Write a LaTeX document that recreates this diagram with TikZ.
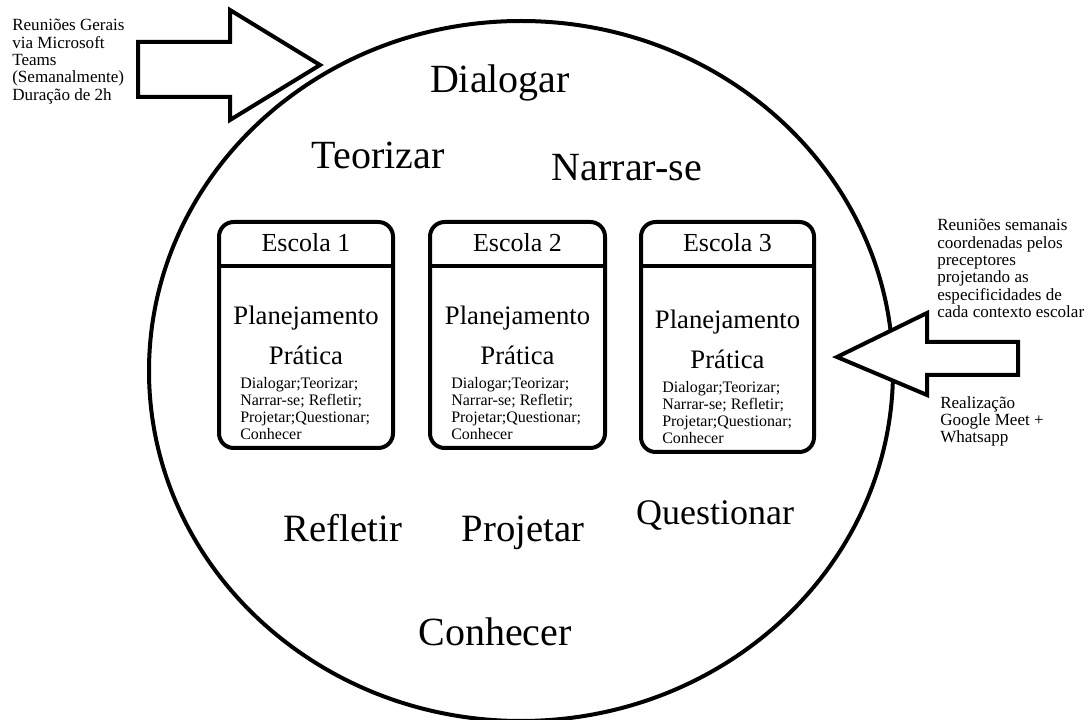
\documentclass[tikz,border=0pt]{standalone}
\usepackage{fontspec}
\setmainfont{Liberation Serif}
\begin{document}
\begin{tikzpicture}[x=0.75pt,y=-0.75pt,
  heavy/.style={line width=3pt},
  blockarrow/.style={line width=3pt, fill=white, line join=miter},
  bigword/.style={font=\fontsize{30}{36}\selectfont, inner sep=0pt},
  lowword/.style={font=\fontsize{29}{34}\selectfont, inner sep=0pt},
  schoolbox/.style={line width=3pt, rounded corners=11pt},
  header/.style={font=\fontsize{19.5}{23}\selectfont, inner sep=0pt},
  midword/.style={font=\fontsize{20}{24}\selectfont, inner sep=0pt},
  smalltext/.style={font=\fontsize{12}{12.9}\selectfont, align=left, inner sep=0pt, anchor=north west},
  sidetext/.style={font=\fontsize{12.8}{13}\selectfont, align=left, inner sep=0pt, anchor=north west}]
\useasboundingbox (0,0) rectangle (1090,720);

% big circle
\draw[heavy] (521,371) ellipse [x radius=279pt, y radius=262.5pt];

% arrows
\draw[blockarrow] (138,42) -- (230,42) -- (230,10) -- (320,65) -- (230,120) -- (230,97) -- (138,97) -- cycle;
\draw[blockarrow] (1018,342) -- (927,342) -- (927,313) -- (837,357) -- (927,395) -- (927,375) -- (1018,375) -- cycle;

% side texts
\node[sidetext] (lt) at (12,19) {Reuniões Gerais\\via Microsoft\\Teams\\(Semanalmente)\\Duração de 2h};
\node[sidetext] (rt) at (937,219) {Reuniões semanais\\coordenadas pelos\\preceptores\\projetando as\\especificidades de\\cada contexto escolar};
\node[sidetext] (rb) at (940,396) {Realização\\Google Meet +\\Whatsapp};

% words in circle
\node[bigword] (w1) at (500,83) {Dialogar};
\node[bigword] (w2) at (378,155) {Teorizar};
\node[bigword] (w3) at (627,168) {Narrar-se};
\node[lowword] (w4) at (343,528) {Refletir};
\node[lowword] (w5) at (523,533) {Projetar};
\node[bigword, font=\fontsize{27}{32}\selectfont] (w6) at (715,515) {Questionar};
\node[bigword] (w7) at (495,632) {Conhecer};

% school boxes
\foreach \i/\xl/\xr/\dy in {1/219/393/0, 2/430/605/0, 3/641/814/4} {
  \draw[schoolbox] (\xl,222) rectangle (\xr,448+\dy);
  \draw[line width=3pt] (\xl,266) -- (\xr,266);
  \node[header] (h\i) at ({(\xl+\xr)/2},243) {Escola \i};
  \node[midword] (p\i) at ({(\xl+\xr)/2},318+\dy) {Planejamento};
  \node[midword] (q\i) at ({(\xl+\xr)/2},355+\dy) {Prática};
  \node[smalltext] (s\i) at (\xl+21,377+\dy) {Dialogar;Teorizar;\\Narrar-se; Refletir;\\Projetar;Questionar;\\Conhecer};
}
\end{tikzpicture}
\end{document}
